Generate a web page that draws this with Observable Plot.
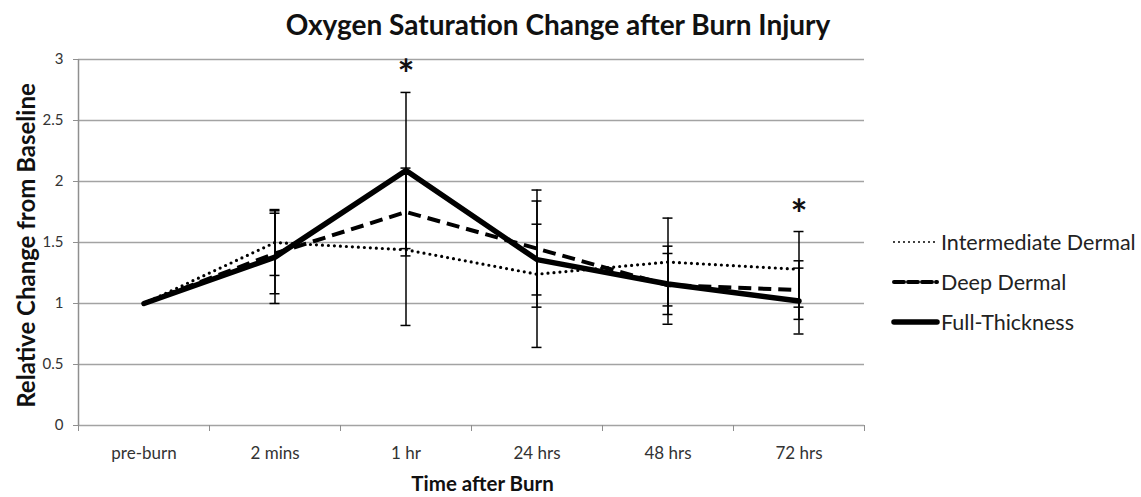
<!DOCTYPE html>
<html>
<head>
<meta charset="utf-8">
<script src="https://cdn.jsdelivr.net/npm/d3@7"></script>
<script src="https://cdn.jsdelivr.net/npm/@observablehq/plot@0.6"></script>
<style>
  html, body { margin: 0; padding: 0; background: #fff; }
  #wrap { position: relative; width: 1141px; height: 497px; overflow: hidden; font-family: Lato, "Open Sans", sans-serif; }
  #title { position: absolute; left: 0; width: 1116px; top: 6px; text-align: center; font-weight: bold; font-size: 28px; line-height: 36px; color: #111; }
  #chart { position: absolute; left: 0; top: 45px; }
  #legend { position: absolute; left: 885px; top: 225px; }
</style>
</head>
<body>
<div id="wrap">
  <div id="title">Oxygen Saturation Change after Burn Injury</div>
  <div id="chart"></div>
  <div id="legend"></div>
</div>
<script>
// ---- data ----
const categories = ["pre-burn", "2 mins", "1 hr", "24 hrs", "48 hrs", "72 hrs"];
const seriesNames = ["Intermediate Dermal", "Deep Dermal", "Full-Thickness"];
const intermediate    = [1, 1.50, 1.44, 1.24, 1.34, 1.28];
const intermediateErr = [0, 0.27, 0.62, 0.60, 0.36, 0.31];
const deep            = [1, 1.41, 1.75, 1.45, 1.15, 1.11];
const deepErr         = [0, 0.33, 0.36, 0.48, 0.32, 0.24];
const full            = [1, 1.38, 2.09, 1.36, 1.16, 1.02];
const fullErr         = [0, 0.38, 0.64, 0.29, 0.25, 0.27];
const significant     = ["1 hr", "72 hrs"];
const yTicks = [0, 0.5, 1, 1.5, 2, 2.5, 3];

// ---- table ----
const values = [intermediate, deep, full];
const errs = [intermediateErr, deepErr, fullErr];
const rows = [];
seriesNames.forEach((s, k) => categories.forEach((c, i) => rows.push({series: s, i, cat: c, v: values[k][i], e: errs[k][i]})));
const errRows = rows.filter(d => d.e > 0);
const sigRows = significant.map(c => {
  const i = categories.indexOf(c);
  return {i, top: d3.max(errRows.filter(d => d.i === i), d => d.v + d.e)};
});
const boundaries = d3.range(categories.length + 1).map(i => i - 0.5);

const styles = {
  "Intermediate Dermal": {strokeWidth: 3.2, strokeDasharray: "0,6", strokeLinecap: "round"},
  "Deep Dermal": {strokeWidth: 4, strokeDasharray: "13,7", strokeLinecap: "butt"},
  "Full-Thickness": {strokeWidth: 5.5, strokeDasharray: null, strokeLinecap: "round"}
};

const lineMarks = seriesNames.map(s => Plot.line(rows.filter(d => d.series === s), {
  x: "i", y: "v", stroke: "black", strokeLinejoin: "round", ...styles[s]
}));

const chart = Plot.plot({
  width: 1141, height: 452,
  marginTop: 14, marginLeft: 78, marginRight: 277, marginBottom: 72,
  x: {domain: [-0.5, categories.length - 0.5]},
  y: {domain: [0, 3]},
  style: {fontFamily: "Lato, 'Open Sans', sans-serif", fontSize: "14px", background: "white", overflow: "visible"},
  marks: [
    Plot.ruleY(yTicks, {stroke: "#a3a3a3", strokeWidth: 1.5}),
    Plot.ruleX([-0.5], {y1: 0, y2: 3, stroke: "#8f8f8f", strokeWidth: 1.5}),
    Plot.axisY({ticks: yTicks, tickSize: 5, tickPadding: 10, stroke: "#8f8f8f", fill: "#333", fontSize: 15, label: null, tickFormat: d => String(d)}),
    Plot.axisX({ticks: d3.range(categories.length), tickFormat: i => categories[i], tickSize: 0, tickPadding: 21, fill: "#333", fontSize: 17, label: null}),
    Plot.axisX({ticks: boundaries, tickFormat: () => "", tickSize: 6, stroke: "#8f8f8f", label: null}),
    Plot.ruleX(errRows, {x: "i", y1: d => d.v - d.e, y2: d => d.v + d.e, stroke: "black", strokeWidth: 1.5}),
    Plot.ruleY(errRows, {x1: "i", x2: "i", y: d => d.v + d.e, insetLeft: -5, insetRight: -5, stroke: "black", strokeWidth: 1.5}),
    Plot.ruleY(errRows, {x1: "i", x2: "i", y: d => d.v - d.e, insetLeft: -5, insetRight: -5, stroke: "black", strokeWidth: 1.5}),
    ...lineMarks,
    Plot.text(sigRows, {x: "i", y: "top", text: () => "*", dy: -3, lineAnchor: "bottom", fontSize: 40, fontWeight: "bold", fill: "#111"}),
    Plot.text(["Relative Change from Baseline"], {frameAnchor: "left", textAnchor: "middle", rotate: -90, dx: -51, dy: 3, fontSize: 24, fontWeight: "bold", fill: "#111"}),
    Plot.text(["Time after Burn"], {frameAnchor: "bottom", dx: 11, dy: 59, lineAnchor: "middle", fontSize: 20.5, fontWeight: "bold", fill: "#111"})
  ]
});
document.getElementById("chart").appendChild(chart);

// ---- legend ----
const lg = d3.select("#legend").append("svg").attr("width", 256).attr("height", 120);
seriesNames.forEach((s, k) => {
  const y = 17 + k * 40;
  const st = styles[s];
  lg.append("line").attr("x1", 9).attr("x2", 52).attr("y1", y).attr("y2", y)
    .attr("stroke", "black")
    .attr("stroke-width", k === 0 ? 2 : st.strokeWidth)
    .attr("stroke-dasharray", k === 0 ? "0,5" : (k === 1 ? "10,4" : null))
    .attr("stroke-linecap", "round");
  lg.append("text").attr("x", 56).attr("y", y).attr("dy", "0.35em")
    .attr("font-family", "Lato, 'Open Sans', sans-serif").attr("font-size", 21.5).attr("fill", "#222")
    .text(s);
});
</script>
</body>
</html>
